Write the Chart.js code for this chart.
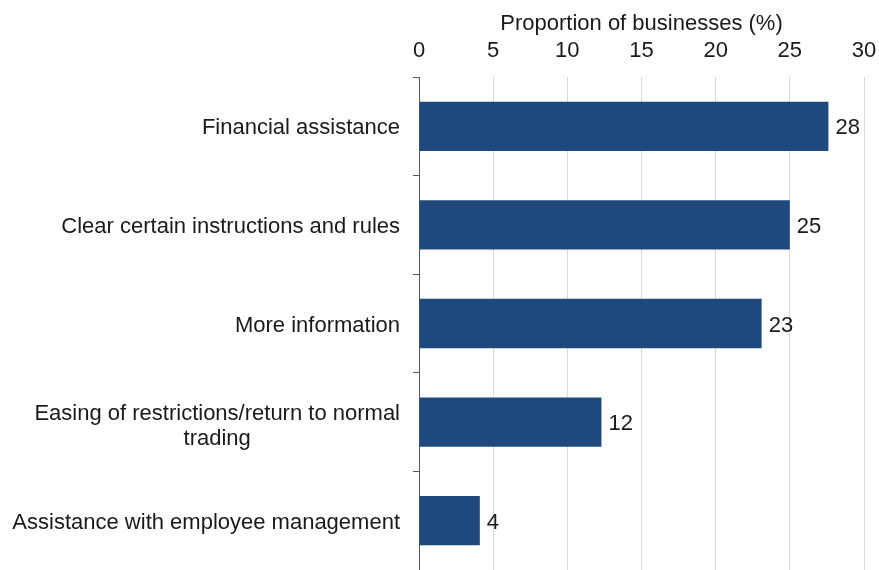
<!DOCTYPE html>
<html>
<head>
<meta charset="utf-8">
<script src="https://cdn.jsdelivr.net/npm/chart.js@4.4.0/dist/chart.umd.min.js"></script>
<style>
  html, body { margin: 0; padding: 0; background: #fff; }
  #wrap { width: 879px; height: 570px; }
</style>
</head>
<body>
<div id="wrap"><canvas id="myChart" width="879" height="570"></canvas></div>
<script>
// categories (multi-line ones are arrays)
const categories = [
  'Financial assistance',
  'Clear certain instructions and rules',
  'More information',
  ['Easing of restrictions/return to normal', 'trading'],
  'Assistance with employee management'
];
const proportions = [27.6, 25.0, 23.1, 12.3, 4.1];
const xTicks = [0, 5, 10, 15, 20, 25, 30];
const axisTitle = 'Proportion of businesses (%)';

const FONT = '"Liberation Sans", Arial, sans-serif';

// draws the category labels, right aligned block with centred lines
const catLabels = {
  id: 'catLabels',
  afterDraw(chart) {
    const ctx = chart.ctx;
    const y = chart.scales.y;
    const right = y.right - 19;
    ctx.save();
    ctx.font = '22px ' + FONT;
    ctx.fillStyle = '#1a1a1a';
    ctx.textBaseline = 'middle';
    ctx.textAlign = 'center';
    categories.forEach((c, i) => {
      const lines = Array.isArray(c) ? c : [c];
      const w = Math.max(...lines.map(l => ctx.measureText(l).width));
      const cy = y.getPixelForValue(i) + (lines.length > 1 ? 4.5 : 2);
      const lh = 24.5;
      lines.forEach((l, j) => {
        ctx.fillText(l, right - w / 2, cy + (j - (lines.length - 1) / 2) * lh);
      });
    });
    ctx.restore();
  }
};

// value labels at the end of each bar
const valueLabels = {
  id: 'valueLabels',
  afterDatasetsDraw(chart) {
    const ctx = chart.ctx;
    const meta = chart.getDatasetMeta(0);
    ctx.save();
    ctx.font = '22px ' + FONT;
    ctx.fillStyle = '#1a1a1a';
    ctx.textBaseline = 'middle';
    ctx.textAlign = 'left';
    meta.data.forEach((bar, i) => {
      ctx.fillText(Math.round(proportions[i]), bar.x + 7, bar.y + 2);
    });
    ctx.restore();
  }
};

const ctx = document.getElementById('myChart').getContext('2d');
new Chart(ctx, {
  type: 'bar',
  data: {
    labels: categories,
    datasets: [{
      data: proportions,
      backgroundColor: '#1f497d',
      borderWidth: 0,
      barPercentage: 0.5,
      categoryPercentage: 1.0
    }]
  },
  options: {
    indexAxis: 'y',
    responsive: false,
    animation: false,
    layout: { padding: { right: 15, left: 0, top: 0, bottom: 0 } },
    plugins: {
      legend: { display: false },
      tooltip: { enabled: false }
    },
    scales: {
      x: {
        position: 'top',
        min: 0,
        max: 30,
        afterBuildTicks: (s) => { s.ticks = xTicks.map(v => ({ value: v })); },
        afterFit: (s) => { s.height = 77; s.paddingLeft = 0; s.paddingRight = 0; },
        border: { display: false },
        grid: { color: '#d9d9d9', lineWidth: 1, drawTicks: false },
        ticks: {
          padding: 12.5,
          color: '#1a1a1a',
          font: { family: FONT, size: 22 }
        },
        title: {
          display: true,
          text: axisTitle,
          color: '#1a1a1a',
          font: { family: FONT, size: 22 },
          padding: { top: 10.5, bottom: 0 }
        }
      },
      y: {
        afterFit: (s) => { s.width = 419; },
        border: { display: true, color: '#595959', width: 1 },
        grid: {
          offset: true,
          drawOnChartArea: false,
          drawTicks: true,
          tickLength: 6,
          color: '#595959'
        },
        ticks: { display: false }
      }
    }
  },
  plugins: [catLabels, valueLabels]
});
</script>
</body>
</html>
